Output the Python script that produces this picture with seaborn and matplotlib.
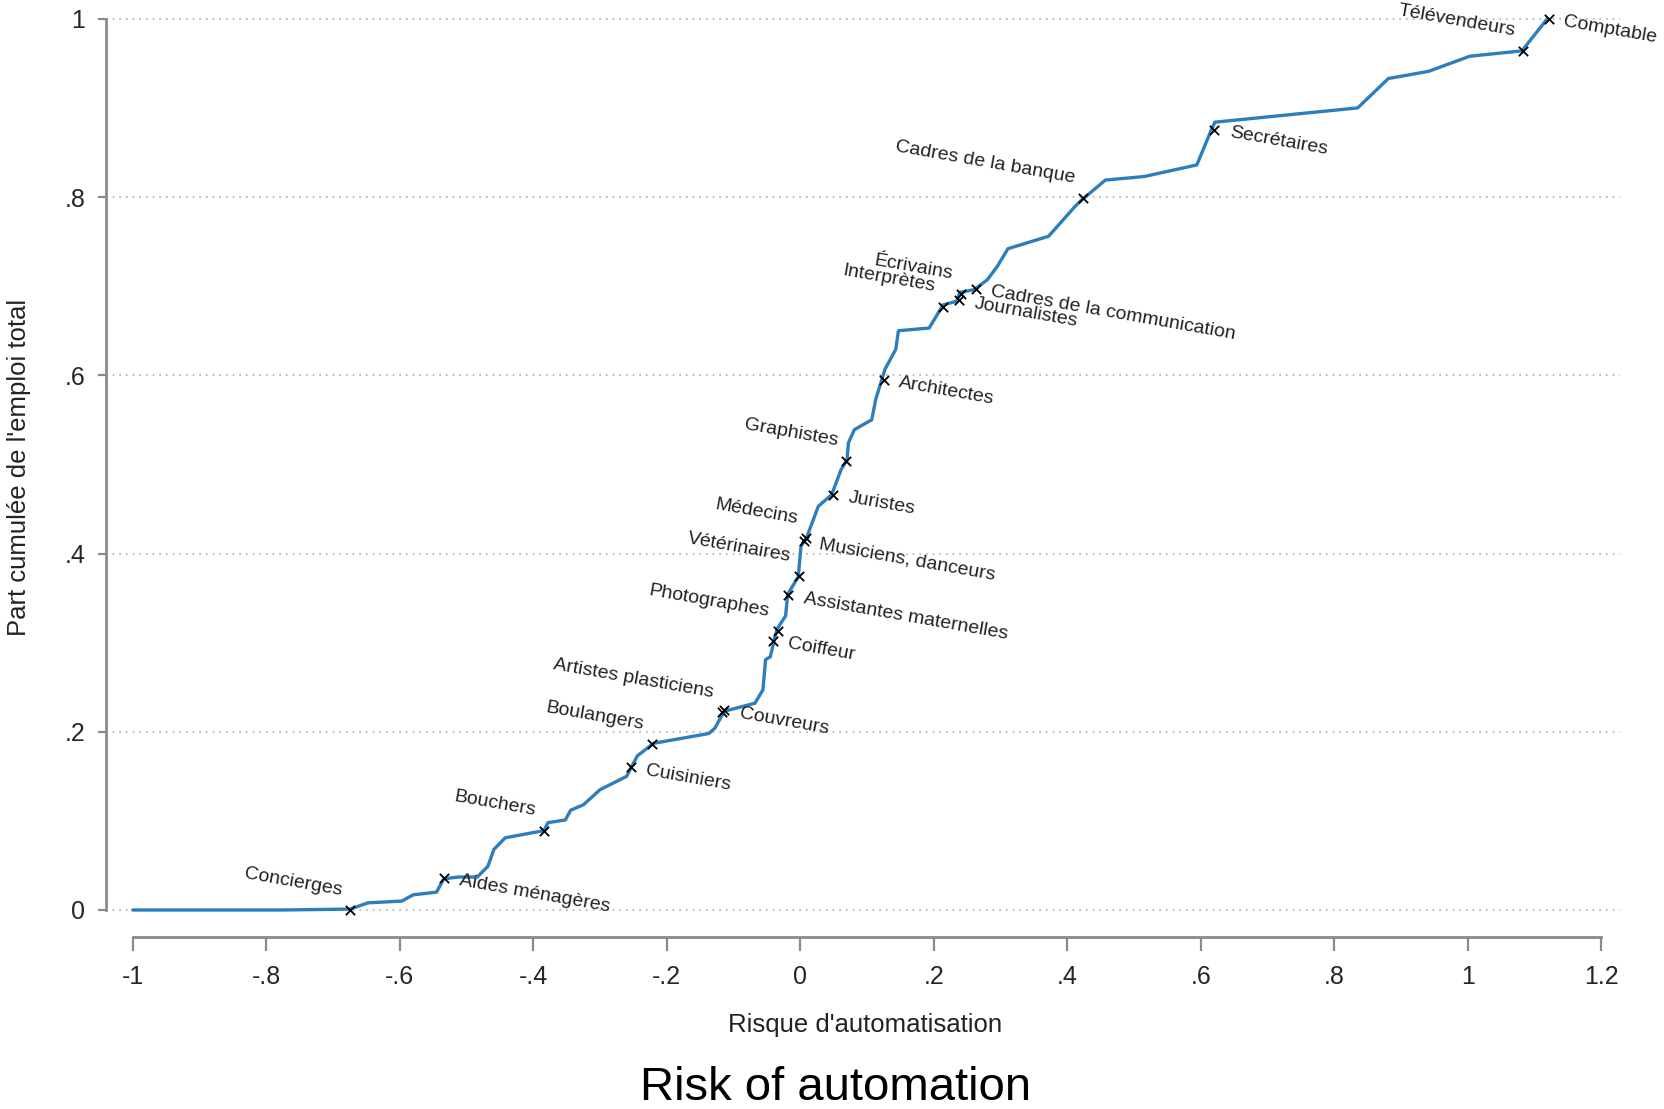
import pandas as pd
import matplotlib.pyplot as plt
import seaborn as sns

# Cumulative share of employment against automation risk
risk = [-1.000, -0.777, -0.674, -0.648, -0.597, -0.580, -0.545, -0.534, -0.512, -0.484,
        -0.468, -0.459, -0.442, -0.399, -0.384, -0.378, -0.352, -0.344, -0.325, -0.300,
        -0.260, -0.254, -0.244, -0.220, -0.137, -0.128, -0.114, -0.068, -0.056, -0.052,
        -0.045, -0.039, -0.035, -0.022, -0.019, -0.003, 0.001, 0.010, 0.027, 0.047,
        0.061, 0.070, 0.072, 0.081, 0.107, 0.113, 0.122, 0.127, 0.143, 0.147,
        0.193, 0.214, 0.234, 0.239, 0.260, 0.280, 0.295, 0.311, 0.372, 0.411,
        0.422, 0.457, 0.515, 0.594, 0.615, 0.621, 0.835, 0.881, 0.941, 1.003,
        1.081, 1.119]
cum_share = [0.000, 0.000, 0.001, 0.008, 0.010, 0.017, 0.020, 0.035, 0.037, 0.037,
             0.049, 0.068, 0.081, 0.087, 0.089, 0.098, 0.101, 0.112, 0.118, 0.135,
             0.150, 0.159, 0.173, 0.187, 0.198, 0.204, 0.223, 0.232, 0.247, 0.281,
             0.284, 0.303, 0.315, 0.330, 0.354, 0.374, 0.408, 0.419, 0.453, 0.466,
             0.494, 0.505, 0.524, 0.539, 0.550, 0.573, 0.595, 0.607, 0.629, 0.650,
             0.653, 0.679, 0.683, 0.693, 0.696, 0.707, 0.722, 0.742, 0.756, 0.789,
             0.797, 0.819, 0.823, 0.836, 0.874, 0.884, 0.900, 0.933, 0.941, 0.958,
             0.964, 1.000]

# Labelled occupations
jobs = ["Concierges", "Aides ménagères", "Bouchers", "Cuisiniers", "Boulangers",
        "Couvreurs", "Artistes plasticiens", "Coiffeur", "Photographes",
        "Assistantes maternelles", "Vétérinaires", "Musiciens, danceurs", "Médecins",
        "Juristes", "Graphistes", "Architectes", "Interprètes", "Journalistes",
        "Écrivains", "Cadres de la communication", "Cadres de la banque",
        "Secrétaires", "Télévendeurs", "Comptable"]
job_risk = [-0.674, -0.534, -0.384, -0.254, -0.222, -0.114, -0.118, -0.041, -0.034,
            -0.018, -0.002, 0.006, 0.009, 0.049, 0.069, 0.125, 0.214, 0.238,
            0.241, 0.263, 0.424, 0.620, 1.083, 1.121]
job_share = [0.000, 0.036, 0.089, 0.160, 0.186, 0.224, 0.222, 0.302, 0.313,
             0.353, 0.375, 0.414, 0.417, 0.466, 0.504, 0.595, 0.677, 0.684,
             0.691, 0.697, 0.799, 0.875, 0.964, 1.000]
label_side = ["l", "r", "l", "r", "l", "r", "l", "r", "l", "r", "l", "r", "l",
              "r", "l", "r", "l", "r", "l", "r", "l", "r", "l", "r"]

x_ticks = [-1, -0.8, -0.6, -0.4, -0.2, 0, 0.2, 0.4, 0.6, 0.8, 1, 1.2]
x_tick_labels = ["-1", "-.8", "-.6", "-.4", "-.2", "0", ".2", ".4", ".6", ".8", "1", "1.2"]
y_ticks = [0, 0.2, 0.4, 0.6, 0.8, 1]
y_tick_labels = ["0", ".2", ".4", ".6", ".8", "1"]

curve = pd.DataFrame({"risk": risk, "share": cum_share})
points = pd.DataFrame({"risk": job_risk, "share": job_share, "job": jobs, "side": label_side})

sns.set_style("white")
plt.rcParams["font.family"] = ["Liberation Sans", "DejaVu Sans"]

fig = plt.figure(figsize=(16.65, 11.09), dpi=100)
ax = fig.add_axes([0.0637, 0.1551, 0.9093, 0.8368])

grey = "#8a8a8a"
for yt in y_ticks:
    ax.axhline(yt, color="#b0b0b0", linestyle=(0, (1, 3)), linewidth=1.2, zorder=0)

sns.lineplot(data=curve, x="risk", y="share", sort=False, estimator=None,
             color="#2e7ebc", linewidth=2.4, ax=ax, zorder=2)
sns.scatterplot(data=points, x="risk", y="share", marker="x", color="black",
                s=45, linewidth=1.3, ax=ax, zorder=3)

for _, row in points.iterrows():
    if row["side"] == "r":
        ax.annotate(row["job"], (row["risk"], row["share"]), xytext=(11, -2),
                    textcoords="offset points", ha="left", va="center",
                    rotation=-10, rotation_mode="anchor", fontsize=14, color="#222222")
    else:
        ax.annotate(row["job"], (row["risk"], row["share"]), xytext=(-6, 14),
                    textcoords="offset points", ha="right", va="center",
                    rotation=-10, rotation_mode="anchor", fontsize=14, color="#222222")

ax.set_xlim(-1.040, 1.228)
ax.set_ylim(-0.0303, 1.011)
ax.set_xticks(x_ticks)
ax.set_xticklabels(x_tick_labels)
ax.set_yticks(y_ticks)
ax.set_yticklabels(y_tick_labels)

for side in ["top", "right"]:
    ax.spines[side].set_visible(False)
ax.spines["left"].set_bounds(0, 1)
ax.spines["bottom"].set_bounds(-1, 1.2)
for side in ["left", "bottom"]:
    ax.spines[side].set_color(grey)
    ax.spines[side].set_linewidth(2)

ax.tick_params(axis="y", direction="out", length=6, width=1.6, color=grey,
               pad=9, labelsize=18, left=True)
ax.tick_params(axis="x", direction="out", length=10, width=1.6, color=grey,
               pad=10, labelsize=18, bottom=True)

ax.set_xlabel("")
ax.set_ylabel("")
fig.text(865.5 / 1665, 1 - 1025 / 1109, "Risque d'automatisation",
         ha="center", va="center", fontsize=18.5, color="#222222")
fig.text(19 / 1665, 1 - 467 / 1109, "Part cumulée de l'emploi total",
         ha="center", va="center", rotation=90, fontsize=18.5, color="#222222")
fig.text(836 / 1665, 1 - 1088 / 1109, "Risk of automation",
         ha="center", va="center", fontsize=34, color="black")

fig.savefig("out.png", dpi=100, facecolor="white")
